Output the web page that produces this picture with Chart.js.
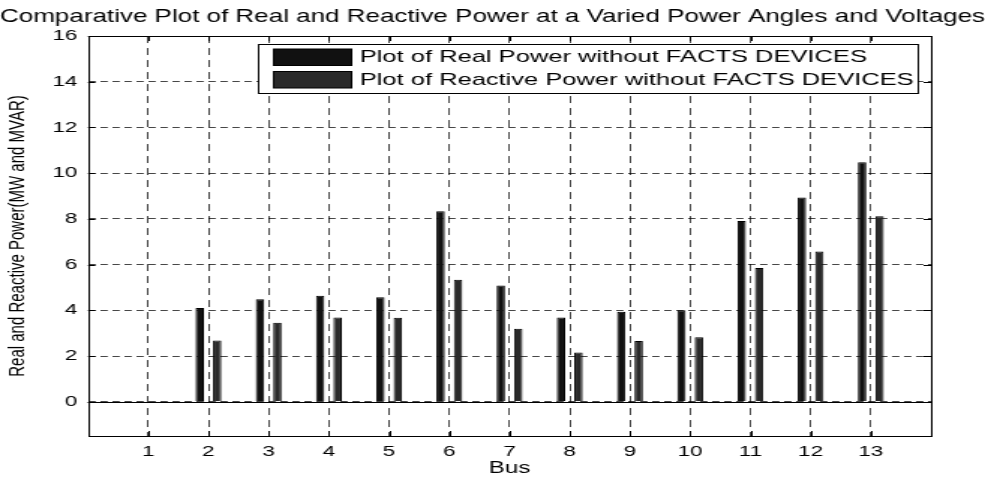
<!DOCTYPE html>
<html>
<head>
<meta charset="utf-8">
<script src="https://cdn.jsdelivr.net/npm/chart.js@4/dist/chart.umd.min.js"></script>
<style>
  html, body { margin: 0; padding: 0; background: #fff; }
</style>
</head>
<body>
<!-- the original figure is stretched sideways, so the canvas is drawn narrow and widened -->
<canvas id="power-chart" width="657" height="480" style="display:block;width:985px;height:480px"></canvas>
<script>
const buses = [1, 2, 3, 4, 5, 6, 7, 8, 9, 10, 11, 12, 13];
const realPower = [0, 4.10, 4.48, 4.64, 4.57, 8.33, 5.09, 3.69, 3.94, 4.00, 7.91, 8.93, 10.48];
const reactivePower = [0, 2.68, 3.45, 3.69, 3.67, 5.34, 3.19, 2.15, 2.66, 2.82, 5.85, 6.57, 8.12];
const yTicks = [0, 2, 4, 6, 8, 10, 12, 14, 16];

const FONT = "'Liberation Sans', Arial, Helvetica, sans-serif";

// MATLAB style box, inward ticks, zero baseline and the legend inside the axes
const matlabFrame = {
  id: "matlabFrame",
  afterDatasetsDraw(chart) {
    const { ctx, chartArea, scales } = chart;
    const y0 = Math.round(scales.y.getPixelForValue(0)) + 0.5;
    ctx.save();
    ctx.strokeStyle = "#000";
    ctx.lineWidth = 1;
    ctx.beginPath();
    ctx.moveTo(chartArea.left, y0);
    ctx.lineTo(chartArea.right, y0);
    ctx.stroke();
    ctx.restore();
  },
  afterDraw(chart) {
    const { ctx, chartArea, scales } = chart;
    const { left, right, top, bottom } = chartArea;
    ctx.save();
    ctx.strokeStyle = "#000";
    ctx.lineWidth = 1;
    ctx.beginPath();
    buses.forEach((b) => {
      const x = Math.round(scales.x.getPixelForValue(b)) + 0.5;
      ctx.moveTo(x, top); ctx.lineTo(x, top + 5);
      ctx.moveTo(x, bottom); ctx.lineTo(x, bottom - 5);
    });
    yTicks.forEach((v) => {
      const y = Math.round(scales.y.getPixelForValue(v)) + 0.5;
      ctx.moveTo(left, y); ctx.lineTo(left + 5, y);
      ctx.moveTo(right, y); ctx.lineTo(right - 5, y);
    });
    ctx.stroke();
    ctx.strokeRect(Math.round(left) + 0.5, Math.round(top) + 0.5,
      Math.round(right - left), Math.round(bottom - top));

    // legend box
    const box = { x: 172.5, y: 44.5, w: 440, h: 49 };
    ctx.fillStyle = "#fff";
    ctx.fillRect(box.x, box.y, box.w, box.h);
    ctx.strokeRect(box.x, box.y, box.w, box.h);
    ctx.font = "17px " + FONT;
    ctx.textBaseline = "middle";
    chart.data.datasets.forEach((ds, i) => {
      const rowY = 57 + i * 22.5;
      ctx.fillStyle = ds.backgroundColor;
      ctx.fillRect(182.5, rowY - 8, 52, 16.5);
      ctx.strokeStyle = "#000";
      ctx.strokeRect(182.5, rowY - 8, 52, 16.5);
      ctx.fillStyle = "#000";
      ctx.fillText(ds.label, 240, rowY + 0.5);
    });
    ctx.restore();
  },
};

new Chart(document.getElementById("power-chart"), {
  type: "bar",
  data: {
    datasets: [
      {
        label: "Plot of Real Power without FACTS DEVICES",
        data: buses.map((b, i) => ({ x: b, y: realPower[i] })),
        backgroundColor: "#111111",
        borderColor: "#000000",
        borderWidth: 1,
        categoryPercentage: 0.58,
        barPercentage: 0.48,
      },
      {
        label: "Plot of Reactive Power without FACTS DEVICES",
        data: buses.map((b, i) => ({ x: b, y: reactivePower[i] })),
        backgroundColor: "#2a2a2a",
        borderColor: "#000000",
        borderWidth: 1,
        categoryPercentage: 0.58,
        barPercentage: 0.48,
      },
    ],
  },
  options: {
    responsive: false,
    devicePixelRatio: 1,
    animation: false,
    layout: { padding: 0 },
    plugins: {
      legend: { display: false },
      tooltip: { enabled: false },
      title: {
        display: true,
        text: "Comparative Plot of Real and Reactive Power at a Varied Power Angles and Voltages",
        color: "#000",
        font: { family: FONT, size: 17.7, weight: "normal" },
        padding: { top: 6.6, bottom: 8.2 },
      },
    },
    scales: {
      x: {
        type: "linear",
        min: 0,
        max: 14,
        offset: false,
        afterBuildTicks: (scale) => {
          scale.ticks = buses.map((b) => ({ value: b }));
        },
        afterFit: (scale) => { scale.height = 44; },
        grid: { offset: false, color: "rgba(0,0,0,0.72)", drawTicks: false },
        border: { display: false, dash: [7, 5] },
        ticks: { color: "#000", font: { family: FONT, size: 15 }, padding: 7, maxRotation: 0 },
        title: {
          display: true,
          text: "Bus",
          color: "#000",
          font: { family: FONT, size: 16 },
          padding: { top: 0, bottom: 1.5 },
        },
      },
      y: {
        min: -1.5,
        max: 16,
        afterBuildTicks: (scale) => {
          scale.ticks = yTicks.map((v) => ({ value: v }));
        },
        afterFit: (scale) => { scale.width = 58.7; },
        grid: { color: "rgba(0,0,0,0.72)", drawTicks: false },
        border: { display: false, dash: [4.9, 3.1] },
        ticks: { color: "#000", font: { family: FONT, size: 15 }, padding: 7 },
        title: {
          display: true,
          text: "Real and Reactive Power(MW and MVAR)",
          color: "#000",
          font: { family: FONT, size: 15 },
          padding: { top: 2.7, bottom: 0 },
        },
      },
      // empty right-hand axis that only reserves the margin beside the plot box
      yRight: {
        position: "right",
        min: -1.5,
        max: 16,
        afterFit: (scale) => { scale.width = 36; },
        grid: { display: false },
        border: { display: false },
        ticks: { display: false },
      },
    },
  },
  plugins: [matlabFrame],
});
</script>
</body>
</html>
